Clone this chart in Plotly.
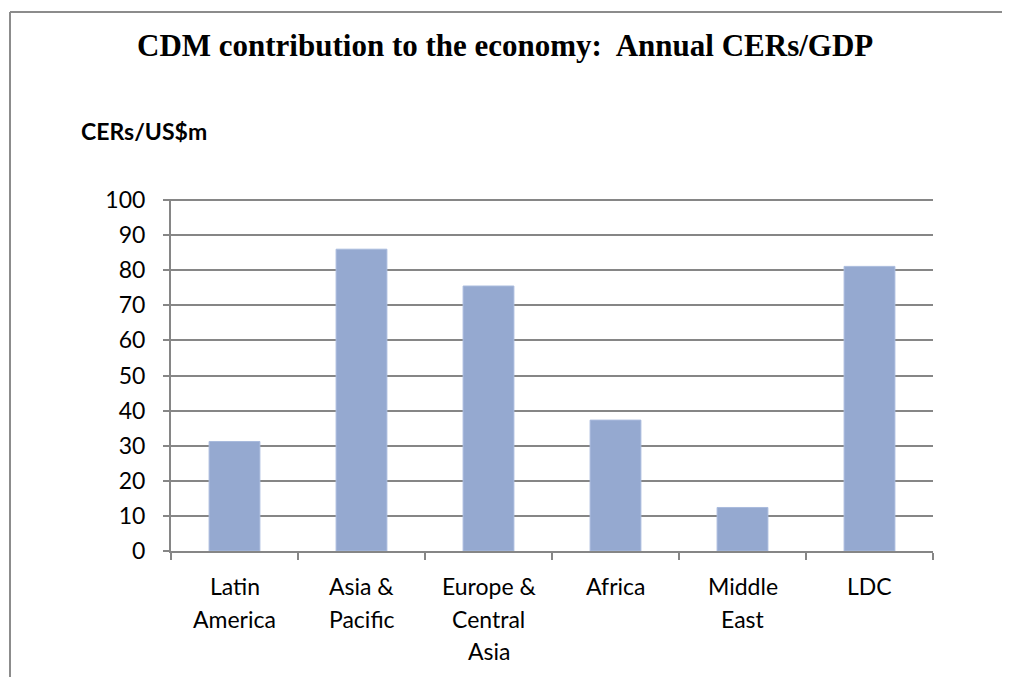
import plotly.graph_objects as go

categories = ["Latin<br>America", "Asia &<br>Pacific", "Europe &<br>Central<br>Asia", "Africa", "Middle<br>East", "LDC"]
values = [31.2, 86.0, 75.5, 37.3, 12.4, 81.1]
y_ticks = list(range(0, 101, 10))
title_text = "CDM contribution to the economy:  Annual CERs/GDP"
y_label = "CERs/US$m"

OFF = 8  # default page body margin
W, H = 1010 - OFF, 677 - OFF
Y_MAX = 100.3
# plot area in page pixels
PL, PR, P100, P0 = 171, 933, 200, 550.7
ppu = (P0 - P100) / 100.0
PT = P0 - ppu * Y_MAX
L = PL - OFF
R = W - (PR - OFF)
T = PT - OFF
B = H - (P0 - OFF)
pw, ph = W - L - R, H - T - B

def px_x(p):
    return (p - OFF - L) / pw

def px_y(p):
    return (H - B - (p - OFF)) / ph

fig = go.Figure()
fig.add_trace(go.Bar(
    x=list(range(len(categories))), y=values,
    marker=dict(color="#95A9D0", line=dict(color="#A9BBDD", width=1)),
    width=0.4,
))

FONT = "Lato, Carlito, Calibri, sans-serif"
tick_font = dict(family=FONT, size=23, color="#000000")

annotations = []
for i, lab in enumerate(categories):
    for j, line in enumerate(lab.split("<br>")):
        annotations.append(dict(
            x=i, y=0, xref="x", yref="y", text=line, showarrow=False,
            font=tick_font, yshift=-(35 + 32.5 * j), xanchor="center", yanchor="middle",
        ))

annotations.append(dict(
    x=px_x(505), y=px_y(46), xref="paper", yref="paper", text="<b>" + title_text + "</b>",
    showarrow=False, font=dict(family="Liberation Serif, Times New Roman, serif", size=31, color="#000"),
    xanchor="center", yanchor="middle",
))
annotations.append(dict(
    x=px_x(79), y=px_y(131), xref="paper", yref="paper", text="<b>" + y_label + "</b>",
    showarrow=False, font=dict(family=FONT, size=23, color="#000"),
    xanchor="left", yanchor="middle",
))

shapes = [
    dict(type="line", xref="paper", yref="paper", x0=px_x(10), x1=px_x(10), y0=px_y(690), y1=px_y(12),
         line=dict(color="#8C8C8C", width=2)),
    dict(type="line", xref="paper", yref="paper", x0=px_x(10), x1=px_x(1020), y0=px_y(12), y1=px_y(12),
         line=dict(color="#8C8C8C", width=2)),
]

fig.update_layout(
    width=W, height=H,
    margin=dict(l=L, r=R, t=T, b=B, pad=0),
    paper_bgcolor="white", plot_bgcolor="white",
    showlegend=False,
    annotations=annotations,
    shapes=shapes,
    xaxis=dict(
        range=[-0.5, len(categories) - 0.5],
        tickmode="array", tickvals=[i - 0.5 for i in range(len(categories) + 1)],
        ticktext=[""] * (len(categories) + 1),
        ticks="outside", ticklen=7, tickwidth=2, tickcolor="#868686",
        showline=True, linecolor="#868686", linewidth=2,
        showgrid=False, zeroline=False,
    ),
    yaxis=dict(
        range=[0, Y_MAX], tickmode="array", tickvals=y_ticks,
        ticks="outside", ticklen=6, tickwidth=2, tickcolor="#868686",
        showline=True, linecolor="#868686", linewidth=2,
        showgrid=True, gridcolor="#868686", gridwidth=2,
        zeroline=False, tickfont=tick_font, ticklabelstandoff=13,
    ),
)

fig.write_html("out.html", config={"displayModeBar": False})
